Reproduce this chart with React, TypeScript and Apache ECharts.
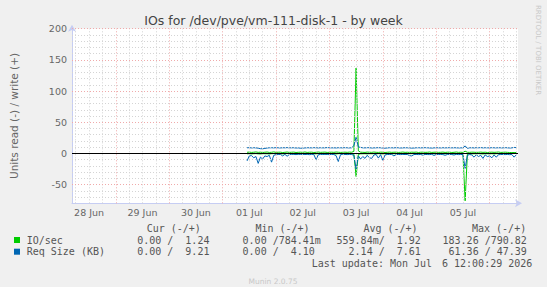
import { useEffect, useRef } from 'react';
import * as echarts from 'echarts';

// ---- categories / labels ----
const dayLabels = ['28 Jun', '29 Jun', '30 Jun', '01 Jul', '02 Jul', '03 Jul', '04 Jul', '05 Jul'];
const yTickLabels = [-50, 0, 50, 100, 150, 200];
const seriesNames = ['IO/sec', 'Req Size (KB)'];
const seriesColors = ['#00CC00', '#0066B3'];

// hourly samples starting Jul 1 11:00 (UTC) up to Jul 6 12:00
const dataStart = Date.UTC(2026, 6, 1, 11, 0, 0);

// IO/sec write (+)
const ioWrite = [
  1.8, 2.1, 1.6, 1.9, 2.3, 1.7, 2.0, 1.5, 1.9, 2.2,
  1.6, 1.8, 2.4, 1.7, 1.9, 2.0, 1.4, 1.8, 2.2, 1.6,
  1.9, 2.1, 1.5, 1.8, 2.0, 1.7, 2.3, 1.6, 1.9, 2.0,
  1.5, 1.8, 2.2, 1.7, 1.9, 2.1, 1.6, 1.8, 2.0, 1.7,
  2.2, 1.9, 1.6, 1.8, 2.0, 1.7, 2.1, 1.9, 3.2, 137,
  4.1, 2.0, 1.8, 1.6, 2.1, 1.9, 1.7, 2.2, 1.8, 1.6,
  2.0, 1.9, 1.5, 1.8, 2.1, 1.7, 1.9, 2.0, 1.6, 1.8,
  2.2, 1.7, 1.9, 1.6, 2.0, 1.8, 2.1, 1.5, 1.9, 2.0,
  1.7, 1.8, 2.2, 1.6, 1.9, 2.0, 1.7, 1.8, 2.1, 1.6,
  1.9, 2.0, 1.5, 1.8, 2.2, 1.7, 1.9, 1.6, 3.5, 1.8,
  1.7, 2.0, 1.9, 1.6, 1.8, 2.1, 1.7, 1.9, 1.5, 1.8,
  2.0, 1.7, 1.9, 2.2, 1.6, 1.8, 2.0, 1.7, 1.5, 1.3,
  1.4, 1.24,
];
// IO/sec read (-)
const ioRead = [
  0.6, 0.4, 0.8, 0.5, 0.3, 0.7, 0.9, 0.4, 0.5, 0.6,
  0.8, 0.5, 0.3, 0.4, 0.6, 0.5, 0.7, 0.4, 0.3, 0.5,
  0.4, 0.6, 0.3, 0.5, 0.4, 0.7, 0.5, 0.3, 0.6, 0.4,
  0.5, 0.8, 0.4, 0.3, 0.5, 0.6, 0.4, 0.5, 0.3, 0.6,
  0.9, 0.5, 0.4, 0.3, 0.6, 0.4, 0.5, 0.3, 1.2, 37,
  1.5, 0.7, 0.6, 0.5, 0.8, 0.4, 0.6, 0.5, 0.7, 0.4,
  0.6, 0.8, 0.4, 0.5, 0.3, 0.6, 0.5, 0.4, 0.3, 0.5,
  0.4, 0.6, 0.3, 0.5, 0.4, 0.3, 0.6, 0.4, 0.5, 0.3,
  0.5, 0.4, 0.6, 0.3, 0.4, 0.5, 0.3, 0.6, 0.4, 0.5,
  0.3, 0.4, 0.6, 0.5, 0.3, 0.4, 0.5, 0.6, 76, 1.1,
  0.6, 0.8, 0.5, 0.7, 0.4, 0.6, 0.9, 0.5, 0.6, 0.7,
  0.5, 0.8, 0.4, 0.6, 0.5, 0.3, 0.4, 0.5, 0.3, 0.2,
  0.1, 0.0,
];
// Req Size (KB) write (+)
const sizeWrite = [
  9.0, 9.2, 8.8, 9.1, 8.9, 8.4, 7.6, 7.4, 8.0, 8.7,
  9.0, 9.1, 8.9, 9.2, 9.0, 8.8, 9.1, 9.0, 9.3, 8.9,
  9.0, 9.1, 8.7, 8.9, 8.3, 8.5, 8.8, 9.1, 9.0, 8.9,
  9.2, 9.0, 8.8, 9.1, 8.9, 9.0, 9.3, 9.1, 8.9, 9.0,
  8.8, 9.1, 9.0, 8.9, 9.2, 9.0, 8.8, 9.1, 12.5, 26,
  10.5, 9.6, 9.0, 8.9, 9.2, 9.1, 8.7, 8.9, 9.0, 9.2,
  9.0, 8.6, 8.4, 8.8, 9.1, 9.0, 8.9, 9.2, 9.0, 8.7,
  8.9, 9.1, 9.0, 8.8, 8.5, 8.7, 9.0, 9.1, 8.9, 9.0,
  9.2, 9.0, 8.8, 8.6, 8.9, 9.1, 9.0, 8.8, 9.1, 8.9,
  9.0, 9.2, 8.9, 9.1, 9.0, 8.8, 8.9, 9.0, 12, 8.2,
  9.0, 9.1, 8.8, 9.2, 9.0, 9.3, 8.9, 9.1, 9.0, 8.8,
  9.2, 9.0, 8.9, 9.1, 9.0, 8.8, 9.2, 9.0, 8.7, 8.9,
  9.6, 9.21,
];
// Req Size (KB) read (-)
const sizeRead = [
  12, 4, 3.5, 7, 5, 16, 6, 9, 4, 5,
  3, 14, 3, 2, 1.8, 1.6, 4, 1.5, 4.5, 1.8,
  1.6, 1.5, 1.9, 1.4, 1.7, 1.6, 1.8, 1.5, 2.0, 1.6,
  1.7, 10, 2.2, 1.6, 1.8, 1.5, 1.7, 1.9, 1.6, 1.8,
  3.5, 13, 2.0, 1.7, 1.6, 1.9, 1.5, 1.8, 3, 25,
  4, 9, 5, 8, 3, 7, 8, 2.5, 1.8, 7.5,
  2.0, 11, 2.5, 1.7, 1.8, 1.6, 4, 1.8, 1.7, 1.9,
  1.6, 1.8, 1.7, 3.5, 4, 1.8, 1.6, 1.9, 1.7, 2.8,
  1.6, 1.8, 1.9, 1.5, 3.2, 1.7, 1.8, 1.6, 1.9, 3.0,
  1.7, 1.6, 1.8, 2.6, 1.5, 1.9, 1.7, 1.8, 24, 3,
  1.8, 2.5, 6, 2.2, 5, 3, 8, 2.4, 5, 4,
  7, 2.5, 6, 2.0, 1.8, 1.7, 1.9, 1.6, 2.0, 1.8,
  6, 2.2,
];

// legend statistics
const legendHeaders = ['Cur (-/+)', 'Min (-/+)', 'Avg (-/+)', 'Max (-/+)'];
const ioStats = [['0.00 /', '1.24'], ['0.00 /', '784.41m'], ['559.84m/', '1.92'], ['183.26 /', '790.82']];
const sizeStats = [['0.00 /', '9.21'], ['0.00 /', '4.10'], ['2.14 /', '7.61'], ['61.36 /', '47.39']];
const lastUpdate = ['Last update: Mon Jul', '6 12:00:29 2026'];

const TITLE = 'IOs for /dev/pve/vm-111-disk-1 - by week';
const Y_NAME = 'Units read (-) / write (+)';

export default function App() {
  const ref = useRef<HTMLDivElement>(null);
  useEffect(() => {
    const chart = echarts.init(ref.current!, null, { renderer: 'svg' });
    const HOUR = 3600 * 1000;
    const X_MIN = Date.UTC(2026, 5, 28, 4, 20);
    const X_MAX = Date.UTC(2026, 6, 6, 12, 45);
    const times = ioWrite.map((_, i) => dataStart + i * HOUR);
    const dayNoons = dayLabels.map((_, i) => Date.UTC(2026, 5, 28 + i, 12));

    const AXIS = '#c6cdf3';
    const MINOR = '#d4d4d4';
    const MAJOR = '#f0aaaa';
    const FONT = '#666666';
    const gridLines: any[] = [];
    for (let d = 0; d < 10; d++) {
      for (const h of [0, 6, 12, 18]) {
        const t = Date.UTC(2026, 5, 28 + d, h);
        if (t <= X_MIN || t >= X_MAX) continue;
        gridLines.push({ xAxis: t, lineStyle: { color: h === 0 ? MAJOR : MINOR, type: [1, 2], width: 1 } });
      }
    }
    for (let v = -70; v <= 200; v += 10) {
      const major = v % 50 === 0;
      gridLines.push({ yAxis: v, lineStyle: { color: major ? MAJOR : MINOR, type: [1, 2], width: 1 } });
    }
    gridLines.sort((a, b) => (a.lineStyle.color === MAJOR ? 1 : 0) - (b.lineStyle.color === MAJOR ? 1 : 0));

    const mono = 'DejaVu Sans Mono';
    const cw = 6.02;
    const slashEnd = [173.3, 278.7, 384.7, 490.7];
    const headerX = [146.7, 255.4, 363.4, 472];
    const rowY = [240, 251.7];
    const graphics: any[] = [];
    const txt = (text: string, x: number, y: number, align: string, extra: any = {}) => ({
      type: 'text', x, y, silent: true,
      style: { text, fill: '#555', font: `10px "${mono}"`, textAlign: align, textVerticalAlign: 'middle', ...extra },
    });
    legendHeaders.forEach((h, i) => graphics.push(txt(h, headerX[i], 228.6, 'left')));
    [ioStats, sizeStats].forEach((stats, r) => {
      graphics.push({ type: 'rect', silent: true, shape: { x: 14, y: rowY[r] - 3, width: 6, height: 6 }, style: { fill: seriesColors[r] } });
      graphics.push(txt(seriesNames[r], 26.7, rowY[r], 'left'));
      stats.forEach((pair, c) => {
        graphics.push(txt(pair[0], slashEnd[c], rowY[r], 'right'));
        const numLen = pair[1].replace(/[a-zA-Z]$/, '').length;
        graphics.push(txt(pair[1], slashEnd[c] + cw * (6 - numLen), rowY[r], 'left'));
      });
    });
    graphics.push(txt(lastUpdate[0], 311.7, 263.3, 'left'));
    graphics.push(txt(lastUpdate[1], 532.3, 263.3, 'right'));
    graphics.push({
      type: 'text', x: 273, y: 281, silent: true,
      style: { text: 'Munin 2.0.75', fill: '#c8c8c8', font: '7.5px "DejaVu Sans"', textAlign: 'center', textVerticalAlign: 'middle' },
    });
    graphics.push({
      type: 'text', x: 538, y: 5, rotation: -Math.PI / 2, silent: true,
      style: { text: 'RRDTOOL / TOBI OETIKER', fill: '#c8c8c8', font: '7px "DejaVu Sans"', textAlign: 'left', textVerticalAlign: 'middle' },
    });

    const lineSeries = (name: string, color: string, vals: number[], sign: number, z: number) => ({
      type: 'line', name, data: times.map((t, i) => [t, sign * vals[i]]), showSymbol: false, symbol: 'none',
      lineStyle: { color, width: 1 }, itemStyle: { color }, z, silent: true, clip: true,
    });

    const option: any = {
      animation: false,
      backgroundColor: '#f0f0f0',
      title: {
        text: TITLE, left: 'center', top: 9,
        textStyle: { color: '#444', fontSize: 12.5, fontWeight: 'normal', fontFamily: 'DejaVu Sans' },
      },
      grid: { left: 66.7, right: 29, top: 28.7, bottom: 83.7, containLabel: false, backgroundColor: '#ffffff', show: true, borderWidth: 0 },
      xAxis: {
        type: 'value', min: X_MIN, max: X_MAX, scale: true,
        axisLine: { show: true, onZero: false, lineStyle: { color: AXIS, width: 1 }, symbol: ['none', 'arrow'], symbolSize: [6, 7], symbolOffset: [0, 4] },
        axisTick: { show: false },
        splitLine: { show: false },
        axisLabel: {
          customValues: dayNoons,
          formatter: (v: number) => {
            let best = 0;
            dayNoons.forEach((t, i) => { if (Math.abs(t - v) < Math.abs(dayNoons[best] - v)) best = i; });
            return dayLabels[best];
          },
          color: FONT, fontSize: 9.5, fontFamily: 'DejaVu Sans', margin: 4,
        },
      },
      yAxis: {
        type: 'value', min: -80, max: 200, interval: 10,
        axisLine: { show: true, onZero: false, lineStyle: { color: AXIS, width: 1 }, symbol: ['none', 'arrow'], symbolSize: [6, 7], symbolOffset: [0, 4] },
        axisTick: { show: false },
        splitLine: { show: false },
        axisLabel: {
          formatter: (v: number) => (yTickLabels.includes(v) ? String(v) : ''),
          color: FONT, fontSize: 9.5, fontFamily: 'DejaVu Sans', margin: 5,
        },
        name: Y_NAME, nameLocation: 'middle', nameGap: 53, nameRotate: 90,
        nameTextStyle: { color: FONT, fontSize: 10.5, fontFamily: 'DejaVu Sans' },
      },
      graphic: graphics,
      series: [
        {
          type: 'line', data: [], z: 1, silent: true,
          markLine: { silent: true, symbol: ['none', 'none'], label: { show: false }, emphasis: { disabled: true }, data: gridLines },
        },
        {
          type: 'line', data: [], z: 2, silent: true,
          markLine: { silent: true, symbol: ['none', 'none'], label: { show: false }, emphasis: { disabled: true },
            data: [{ yAxis: 0, lineStyle: { color: '#000000', type: 'solid', width: 1 } }] },
        },
        lineSeries(seriesNames[0], seriesColors[0], ioRead, -1, 3),
        lineSeries(seriesNames[0], seriesColors[0], ioWrite, 1, 3),
        lineSeries(seriesNames[1], seriesColors[1], sizeRead, -1, 4),
        lineSeries(seriesNames[1], seriesColors[1], sizeWrite, 1, 4),
      ],
    };
    chart.setOption(option);
    return () => chart.dispose();
  }, []);
  return <div ref={ref} style={{ position: 'absolute', left: 0, top: 0, width: 547, height: 287 }} />;
}
